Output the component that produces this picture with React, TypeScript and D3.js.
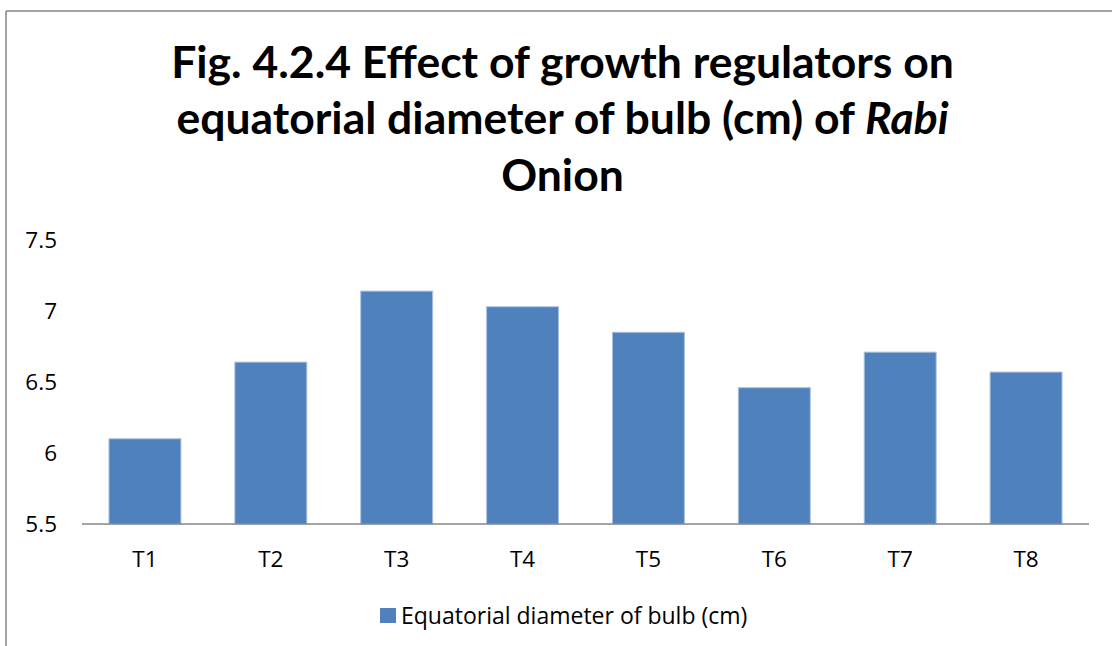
import React from "react";
import * as d3 from "d3";

const categories = ["T1", "T2", "T3", "T4", "T5", "T6", "T7", "T8"];
const values = [6.1, 6.64, 7.14, 7.03, 6.85, 6.46, 6.71, 6.57];
const yTicks = [5.5, 6, 6.5, 7, 7.5];
const seriesName = "Equatorial diameter of bulb (cm)";

const W = 1112;
const H = 646;
const TITLE_FONT = "Lato, 'Open Sans', sans-serif";
const FONT = "'Open Sans', Lato, sans-serif";
const FS = 22.5;

export default function App() {
  const x = d3.scaleBand<string>().domain(categories).range([82, 1089]);
  const y = d3.scaleLinear().domain([5.5, 7.5]).range([524, 240]);
  const bw = x.bandwidth() / 1.75;
  const cx = 562.5;

  return (
    <svg
      width={W}
      height={H}
      style={{ position: "absolute", left: 0, top: 0, background: "#fff" }}
      fontFamily={FONT}
    >
      <rect x={0} y={0} width={W} height={H} fill="#fff" />
      {/* chart border */}
      <line x1={6} y1={11} x2={W} y2={11} stroke="#868686" strokeWidth={1.5} />
      <line x1={6} y1={11} x2={6} y2={H} stroke="#868686" strokeWidth={1.5} />

      {/* title */}
      <g fontFamily={TITLE_FONT} fontWeight="bold" fontSize={44.5} fill="#000" textAnchor="middle">
        <text x={cx} y={78}>Fig. 4.2.4 Effect of growth regulators on</text>
        <text x={cx} y={134}>
          equatorial diameter of bulb (cm) of <tspan fontStyle="italic">Rabi</tspan>
        </text>
        <text x={cx} y={191}>Onion</text>
      </g>

      {/* bars */}
      {categories.map((c, i) => {
        const x0 = (x(c) as number) + (x.bandwidth() - bw) / 2;
        return (
          <rect
            key={c}
            x={x0}
            y={y(values[i])}
            width={bw}
            height={y(5.5) - y(values[i])}
            fill="#4F81BD"
            stroke="#A9C0DE"
            strokeWidth={1}
          />
        );
      })}

      {/* x axis */}
      <line x1={82} y1={y(5.5)} x2={1089} y2={y(5.5)} stroke="#868686" strokeWidth={1.5} />
      {categories.map((c) => (
        <text
          key={c}
          x={(x(c) as number) + x.bandwidth() / 2}
          y={567}
          fontSize={FS}
          textAnchor="middle"
          fill="#000"
        >
          {c}
        </text>
      ))}

      {/* y axis labels */}
      {yTicks.map((t) => (
        <text
          key={t}
          x={57}
          y={y(t)}
          dy="0.36em"
          fontSize={FS}
          textAnchor="end"
          fill="#000"
        >
          {String(t)}
        </text>
      ))}

      {/* legend */}
      <rect x={380} y={608} width={16} height={15} fill="#4F81BD" />
      <text x={401} y={624} fontSize={23} fill="#000">
        {seriesName}
      </text>
    </svg>
  );
}
